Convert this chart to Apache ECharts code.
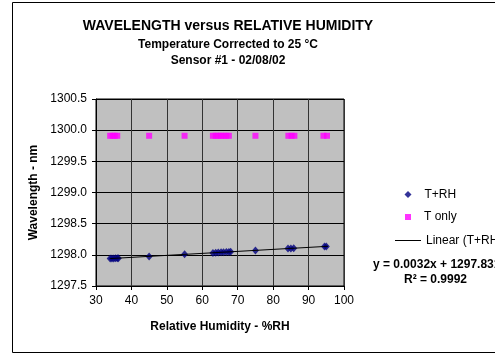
<!DOCTYPE html>
<html><head><meta charset="utf-8">
<script src="https://cdn.jsdelivr.net/npm/echarts@6/dist/echarts.min.js"></script>
<style>html,body{margin:0;padding:0;background:#fff}#c{width:495px;height:354px}</style>
</head><body><div id="c"></div>
<script>
const titleMain = 'WAVELENGTH versus RELATIVE HUMIDITY';
const titleSub1 = 'Temperature Corrected to 25 \u00B0C';
const titleSub2 = 'Sensor #1 - 02/08/02';
const xAxisName = 'Relative Humidity - %RH';
const yAxisName = 'Wavelength - nm';
const xTicks = [30, 40, 50, 60, 70, 80, 90, 100];
const yTicks = [1297.5, 1298.0, 1298.5, 1299.0, 1299.5, 1300.0, 1300.5];
const tRhX = [34, 34.5, 35, 35.5, 36, 36.3, 45, 55, 63, 63.8, 64.5, 65.3, 66, 66.8, 67.5, 68, 75, 84.2, 85, 85.8, 94.5, 95];
const tRhY = [1297.94, 1297.94, 1297.94, 1297.945, 1297.945, 1297.945, 1297.975, 1298.01, 1298.03, 1298.035, 1298.037, 1298.04, 1298.042, 1298.045, 1298.047, 1298.05, 1298.07, 1298.10, 1298.103, 1298.105, 1298.134, 1298.135];
const tOnlyX = [34, 34.7, 35.3, 36, 45, 55, 63, 63.8, 64.5, 65.3, 66, 66.8, 67.5, 75, 84.3, 85.2, 86, 94.2, 95.2];
const tOnlyY = [1299.91, 1299.91, 1299.91, 1299.91, 1299.91, 1299.91, 1299.91, 1299.91, 1299.91, 1299.91, 1299.91, 1299.91, 1299.91, 1299.91, 1299.91, 1299.91, 1299.91, 1299.91, 1299.91];
const trendX = [34, 95.5];
const trendY = [1297.94, 1298.137];
const equationText = 'y = 0.0032x + 1297.831';
const r2Text = 'R\u00B2 = 0.9992';
const legendNames = ['T+RH', 'T only', 'Linear (T+RH)'];

const zip = (a, b) => a.map((v, i) => [v, b[i]]);
const F = 'Liberation Sans, Arial, sans-serif';
const chart = echarts.init(document.getElementById('c'), null, {renderer: 'canvas'});
const legText = {fontFamily: F, fontSize: 12, color: '#000', padding: [0, 0, 0, 8]};
chart.setOption({
  animation: false,
  backgroundColor: '#fff',
  title: [
    {text: titleMain, left: 223, top: 14, textAlign: 'center', textStyle: {fontFamily: F, fontSize: 14, fontWeight: 'bold', color: '#000'}},
    {text: titleSub1, left: 223, top: 34, textAlign: 'center', textStyle: {fontFamily: F, fontSize: 12, fontWeight: 'bold', color: '#000'}},
    {text: titleSub2, left: 223, top: 50, textAlign: 'center', textStyle: {fontFamily: F, fontSize: 12, fontWeight: 'bold', color: '#000'}}
  ],
  legend: [
    {data: [{name: legendNames[0], icon: 'diamond'}], left: 404.5, top: 188.5, itemWidth: 7, itemHeight: 7, itemGap: 0, padding: 0,
      textStyle: legText, selectedMode: false},
    {data: [{name: legendNames[1], icon: 'rect'}], left: 405, top: 211, itemWidth: 6, itemHeight: 6, itemGap: 0, padding: 0,
      textStyle: legText, selectedMode: false},
    {data: [{name: legendNames[2], icon: 'rect'}], left: 395, top: 234.5, itemWidth: 26, itemHeight: 1, itemGap: 0, padding: 0,
      textStyle: {fontFamily: F, fontSize: 12, color: '#000'}, selectedMode: false}
  ],
  grid: {left: 96, top: 99, width: 248, height: 187, show: true, backgroundColor: '#C0C0C0', borderColor: '#000', borderWidth: 1, containLabel: false},
  xAxis: {
    type: 'value', min: 30, max: 100, interval: 10,
    name: xAxisName, nameLocation: 'middle', nameGap: 35,
    nameTextStyle: {fontFamily: F, fontSize: 12, fontWeight: 'bold', color: '#000'},
    axisLine: {show: true, onZero: false, lineStyle: {color: '#000', width: 1}},
    axisTick: {show: true, length: 4, lineStyle: {color: '#000'}},
    axisLabel: {fontFamily: F, fontSize: 12, color: '#000', margin: 9, formatter: v => xTicks.includes(v) ? String(v) : ''},
    splitLine: {show: true, lineStyle: {color: '#333', width: 1}}
  },
  yAxis: {
    type: 'value', min: 1297.5, max: 1300.5, interval: 0.5,
    name: yAxisName, nameLocation: 'middle', nameGap: 51, nameRotate: 90,
    nameTextStyle: {fontFamily: F, fontSize: 12, fontWeight: 'bold', color: '#000'},
    axisLine: {show: true, lineStyle: {color: '#000', width: 1}},
    axisTick: {show: true, length: 4, lineStyle: {color: '#000'}},
    axisLabel: {fontFamily: F, fontSize: 12, color: '#000', margin: 9, formatter: v => yTicks.includes(v) ? v.toFixed(1) : ''},
    splitLine: {show: true, lineStyle: {color: '#000', width: 1}}
  },
  series: [
    {name: legendNames[0], type: 'scatter', symbol: 'diamond', symbolSize: [7, 8], data: zip(tRhX, tRhY), itemStyle: {color: '#000080'}, z: 4},
    {name: legendNames[1], type: 'scatter', symbol: 'rect', symbolSize: 6, data: zip(tOnlyX, tOnlyY), itemStyle: {color: '#FF00FF'}, z: 4},
    {name: legendNames[2], type: 'line', symbol: 'none', data: zip(trendX, trendY), lineStyle: {color: '#000', width: 1}, itemStyle: {color: '#000'}, z: 5}
  ],
  graphic: [
    {type: 'rect', shape: {x: 12.5, y: 2.5, width: 500, height: 350}, style: {fill: 'none', stroke: '#000', lineWidth: 1}, silent: true},
    {type: 'text', left: 373, top: 259, style: {text: equationText, font: 'bold 12px ' + F, fill: '#000'}},
    {type: 'text', left: 404, top: 274, style: {text: r2Text, font: 'bold 12px ' + F, fill: '#000'}}
  ]
});
</script></body></html>
